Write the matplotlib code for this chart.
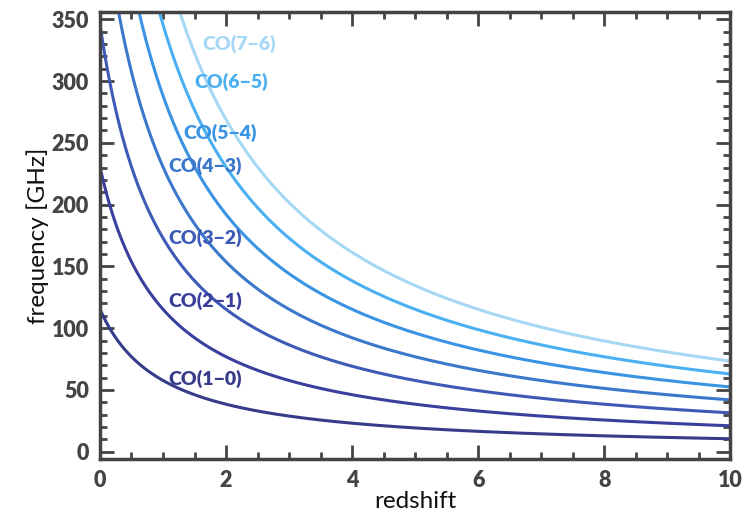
import numpy as np
import matplotlib.pyplot as plt
from matplotlib.ticker import MultipleLocator

# CO rotational lines, rest frequencies in GHz
lines = ['CO(1-0)', 'CO(2-1)', 'CO(3-2)', 'CO(4-3)', 'CO(5-4)', 'CO(6-5)', 'CO(7-6)']
nu_rest = [115.27, 230.54, 345.80, 461.04, 576.27, 691.47, 806.65]
colors = ['#363b8a', '#3a3f9e', '#3d5ab6', '#3b78cc', '#3a93e3', '#4ab0f2', '#a6d8f6']
# label anchor (left edge, redshift / frequency)
label_z = [1.08, 1.08, 1.08, 1.08, 1.33, 1.50, 1.62]
label_nu = [59, 122, 173, 231, 258, 299, 330]

z = np.linspace(0, 10, 600)
ink = '#444444'

plt.rcParams['font.family'] = ['Lato', 'DejaVu Sans']

fig = plt.figure(figsize=(7.46, 5.17), dpi=100)
ax = fig.add_axes([0.134, 0.112, 0.845, 0.865])

for name, nu0, c, lz, ln in zip(lines, nu_rest, colors, label_z, label_nu):
    ax.plot(z, nu0 / (1 + z), color=c, lw=2.2)
    ax.text(lz, ln, name.replace('-', '\u2212'), color=c, fontsize=14,
            fontweight='heavy', ha='left', va='center')

ax.set_xlim(0, 10)
ax.set_ylim(-6, 356)
ax.xaxis.set_major_locator(MultipleLocator(2))
ax.xaxis.set_minor_locator(MultipleLocator(0.5))
ax.yaxis.set_major_locator(MultipleLocator(50))
ax.yaxis.set_minor_locator(MultipleLocator(10))
ax.tick_params(which='both', direction='in', top=True, right=True, color=ink,
               width=2, labelcolor=ink, labelsize=15.5)
ax.tick_params(which='major', length=10, pad=8)
ax.tick_params(which='minor', length=5)
for lab in ax.get_xticklabels() + ax.get_yticklabels():
    lab.set_fontweight('heavy')
for s in ax.spines.values():
    s.set_linewidth(2.5)
    s.set_color(ink)

ax.set_xlabel('redshift', fontsize=17.5, color='#111111', labelpad=0)
ax.set_ylabel('frequency [GHz]', fontsize=17.5, color='#111111', labelpad=2)

fig.savefig('out.png', dpi=100)
